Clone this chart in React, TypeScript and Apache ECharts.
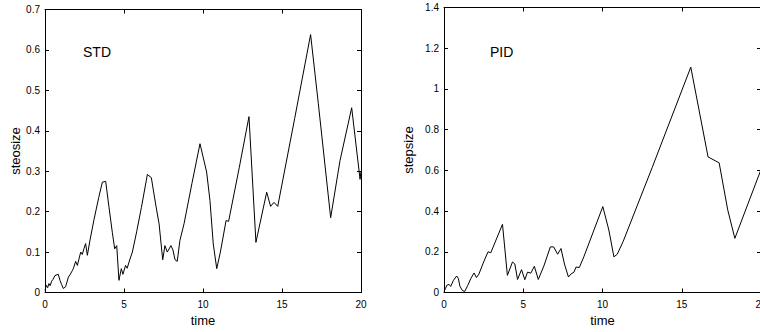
import React, { useEffect, useRef } from "react";
import * as echarts from "echarts";

const stdTime = [0, 0.08, 0.17, 0.25, 0.33, 0.42, 0.5, 0.63, 0.84, 0.95, 1.05, 1.16, 1.3, 1.48, 1.6, 1.73, 1.8, 1.94, 2.05, 2.15, 2.26, 2.36, 2.47, 2.57, 2.68, 2.85, 3.1, 3.4, 3.63, 3.84, 4.05, 4.26, 4.41, 4.54, 4.68, 4.83, 4.93, 5.1, 5.2, 5.38, 5.53, 5.8, 6.1, 6.48, 6.73, 7.0, 7.22, 7.45, 7.59, 7.74, 7.97, 8.1, 8.23, 8.37, 8.54, 8.8, 9.3, 9.81, 10.23, 10.44, 10.65, 10.87, 11.1, 11.46, 11.62, 12.3, 12.91, 13.35, 14.03, 14.28, 14.49, 14.73, 15.8, 16.81, 17.3, 18.08, 18.67, 19.41, 19.94, 20];
const stdValue = [0.005, 0.018, 0.012, 0.022, 0.017, 0.028, 0.032, 0.042, 0.045, 0.03, 0.02, 0.01, 0.014, 0.038, 0.045, 0.054, 0.06, 0.077, 0.067, 0.083, 0.1, 0.094, 0.109, 0.121, 0.092, 0.13, 0.18, 0.235, 0.273, 0.275, 0.211, 0.149, 0.108, 0.116, 0.03, 0.059, 0.045, 0.067, 0.06, 0.083, 0.1, 0.15, 0.21, 0.292, 0.284, 0.219, 0.17, 0.081, 0.116, 0.1, 0.116, 0.105, 0.081, 0.077, 0.129, 0.17, 0.27, 0.368, 0.298, 0.228, 0.12, 0.059, 0.1, 0.178, 0.176, 0.31, 0.435, 0.124, 0.248, 0.213, 0.223, 0.213, 0.43, 0.638, 0.467, 0.185, 0.326, 0.457, 0.28, 0.3];

const pidTime = [0, 0.1, 0.17, 0.32, 0.42, 0.6, 0.8, 0.9, 1.01, 1.16, 1.31, 1.5, 1.7, 1.9, 2.05, 2.2, 2.5, 2.78, 2.95, 3.69, 4.0, 4.32, 4.47, 4.64, 4.89, 5.1, 5.27, 5.48, 5.7, 5.95, 6.3, 6.71, 6.92, 7.17, 7.38, 7.6, 7.85, 8.0, 8.2, 8.33, 8.54, 8.82, 10.02, 10.4, 10.72, 10.93, 11.3, 13.14, 15.57, 16.66, 17.36, 17.9, 18.35, 20];
const pidValue = [0.005, 0.02, 0.035, 0.04, 0.03, 0.06, 0.081, 0.07, 0.03, 0.01, 0.005, 0.035, 0.07, 0.096, 0.073, 0.09, 0.15, 0.2, 0.195, 0.335, 0.084, 0.15, 0.14, 0.064, 0.112, 0.063, 0.1, 0.095, 0.129, 0.064, 0.13, 0.224, 0.224, 0.188, 0.216, 0.14, 0.076, 0.09, 0.1, 0.125, 0.123, 0.175, 0.422, 0.307, 0.175, 0.188, 0.25, 0.615, 1.107, 0.666, 0.637, 0.406, 0.266, 0.604];

const panelLabels = ["STD", "PID"];
const yNames = ["steosize", "stepsize"];
const xName = "time";
const yMax = [0.7, 1.4];
const yStep = [0.1, 0.2];

const FONT = "'Liberation Sans', Arial, sans-serif";

export default function App() {
  const ref = useRef<HTMLDivElement>(null);
  useEffect(() => {
    if (!ref.current) return;
    const chart = echarts.init(ref.current, null, { renderer: "svg" });
    const grids = [
      { left: 45, top: 9.5, width: 316, height: 283, outerBoundsMode: "none", containLabel: false },
      { left: 444, top: 7.5, width: 317, height: 285, outerBoundsMode: "none", containLabel: false },
    ];
    const xAxes: any[] = [];
    const yAxes: any[] = [];
    [0, 1].forEach((g) => {
      xAxes.push({
        type: "value",
        gridIndex: g,
        min: 0,
        max: 20,
        interval: 5,
        name: xName,
        nameLocation: "middle",
        nameGap: 17,
        nameTextStyle: { fontFamily: FONT, fontSize: 13, color: "#000" },
        axisLine: { show: true, onZero: false, lineStyle: { color: "#000", width: 1 } },
        axisTick: { show: true, inside: true, length: 4, lineStyle: { color: "#000" } },
        axisLabel: { fontFamily: FONT, fontSize: 10, color: "#000", margin: 7 },
        splitLine: { show: false },
      });
      xAxes.push({
        type: "value",
        gridIndex: g,
        position: "top",
        min: 0,
        max: 20,
        interval: 5,
        axisLine: { show: true, onZero: false, lineStyle: { color: "#000", width: 1 } },
        axisTick: { show: true, inside: true, length: 4, lineStyle: { color: "#000" } },
        axisLabel: { show: false },
        splitLine: { show: false },
      });
      yAxes.push({
        type: "value",
        gridIndex: g,
        min: 0,
        max: yMax[g],
        interval: yStep[g],
        name: yNames[g],
        nameLocation: "middle",
        nameGap: g === 0 ? 23 : 29,
        nameTextStyle: { fontFamily: FONT, fontSize: 13, color: "#000" },
        axisLine: { show: true, onZero: false, lineStyle: { color: "#000", width: 1 } },
        axisTick: { show: true, inside: true, length: 4, lineStyle: { color: "#000" } },
        axisLabel: { fontFamily: FONT, fontSize: 10, color: "#000", margin: 5 },
        splitLine: { show: false },
      });
      yAxes.push({
        type: "value",
        gridIndex: g,
        position: "right",
        min: 0,
        max: yMax[g],
        interval: yStep[g],
        axisLine: { show: true, onZero: false, lineStyle: { color: "#000", width: 1 } },
        axisTick: { show: true, inside: true, length: 4, lineStyle: { color: "#000" } },
        axisLabel: { show: false },
        splitLine: { show: false },
      });
    });
    const stdData = stdTime.map((t, i) => [t, stdValue[i]]);
    const pidData = pidTime.map((t, i) => [t, pidValue[i]]);
    chart.setOption({
      animation: false,
      grid: grids,
      xAxis: xAxes,
      yAxis: yAxes,
      graphic: [
        { type: "text", left: 83, top: 45, style: { text: panelLabels[0], font: `14px ${FONT}`, fill: "#000" } },
        { type: "text", left: 490, top: 45, style: { text: panelLabels[1], font: `14px ${FONT}`, fill: "#000" } },
      ],
      series: [
        {
          type: "line",
          xAxisIndex: 0,
          yAxisIndex: 0,
          data: stdData,
          showSymbol: false,
          lineStyle: { color: "#000", width: 1 },
        },
        {
          type: "line",
          xAxisIndex: 2,
          yAxisIndex: 2,
          data: pidData,
          showSymbol: false,
          lineStyle: { color: "#000", width: 1 },
        },
      ],
    });
    return () => chart.dispose();
  }, []);
  return (
    <div
      ref={ref}
      style={{ position: "absolute", left: 0, top: 0, width: 760, height: 332, background: "#fff" }}
    />
  );
}
